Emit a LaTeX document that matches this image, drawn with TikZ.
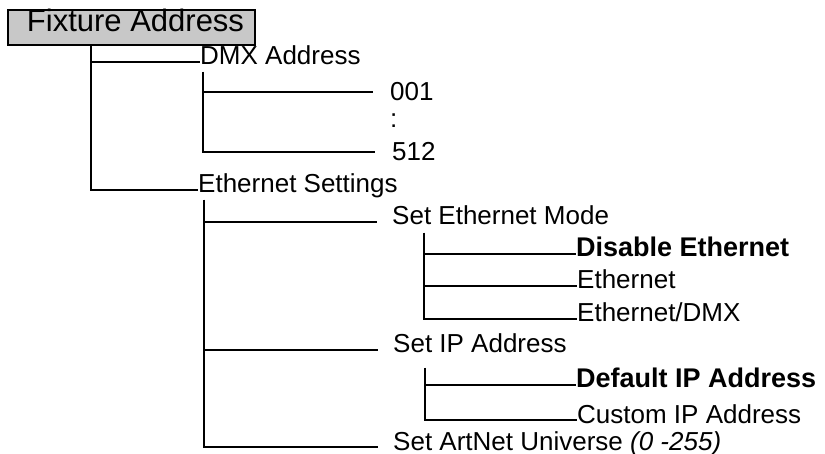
\documentclass[tikz,border=0pt]{standalone}
\usepackage{fontspec}
\setmainfont{Liberation Sans}
\definecolor{boxgray}{RGB}{200,200,200}
\tikzset{
  branch/.style={line width=1.6pt},
  menu/.style={draw, line width=1.6pt, fill=boxgray, minimum width=247pt, minimum height=35pt,
    inner sep=0pt, text height=22pt, text depth=13pt, font=\fontsize{31}{37}\selectfont},
  item/.style={anchor=base west, inner sep=0pt, font=\fontsize{26}{31}\selectfont},
  subitem/.style={item, inner xsep=15pt},
  num/.style={anchor=west, inner ysep=0pt, inner xsep=17pt, font=\fontsize{26}{31}\selectfont},
  pick/.style={item, font=\fontsize{27}{32}\selectfont\bfseries}
}
\begin{document}
\begin{tikzpicture}[x=1pt,y=-1pt]
\useasboundingbox (0,0) rectangle (825,454);
\node[menu] (fixaddr) at (131.5,27.5) {\hspace*{8pt}Fixture Address};
\node[item] (dmxaddr) at (200,65) {DMX Address};
\node[item] (ethset) at (198,193) {Ethernet Settings};
\coordinate (fa) at (91,45);
\draw[branch] (fa) |- ([yshift=3pt]dmxaddr.base west);
\draw[branch] (fa) |- ([yshift=3pt]ethset.base west);
\node[num] (d001) at (373,92) {001};
\node[item] (dots) at (390,128) {:};
\node[num] (d512) at (375,152) {512};
\coordinate (da) at (203,72);
\draw[branch] (da) |- (d001.west);
\draw[branch] (da) |- (d512.west);
\node[subitem] (ethmode) at (377,225) {Set Ethernet Mode};
\node[subitem] (ipaddr) at (378,353) {Set IP Address};
\node[subitem] (artnet) at (378,450) {Set ArtNet Universe \textit{(0 -255)}};
\coordinate (es) at (204,200);
\draw[branch] (es) |- ([yshift=3pt]ethmode.base west);
\draw[branch] (es) |- ([yshift=3pt]ipaddr.base west);
\draw[branch] (es) |- ([yshift=3pt]artnet.base west);
\node[pick] (ethoff) at (576,257) {Disable Ethernet};
\node[item] (ethon) at (577,289) {Ethernet};
\node[item] (ethdmx) at (577,322) {Ethernet/DMX};
\coordinate (em) at (424,233);
\draw[branch] (em) |- ([yshift=3pt]ethoff.base west);
\draw[branch] (em) |- ([yshift=3pt]ethon.base west);
\draw[branch] (em) |- ([yshift=3pt]ethdmx.base west);
\node[pick] (ipdef) at (576,388) {Default IP Address};
\node[item] (ipcus) at (577,423) {Custom IP Address};
\coordinate (ia) at (425,368);
\draw[branch] (ia) |- ([yshift=3pt]ipdef.base west);
\draw[branch] (ia) |- ([yshift=3pt]ipcus.base west);
\end{tikzpicture}
\end{document}
